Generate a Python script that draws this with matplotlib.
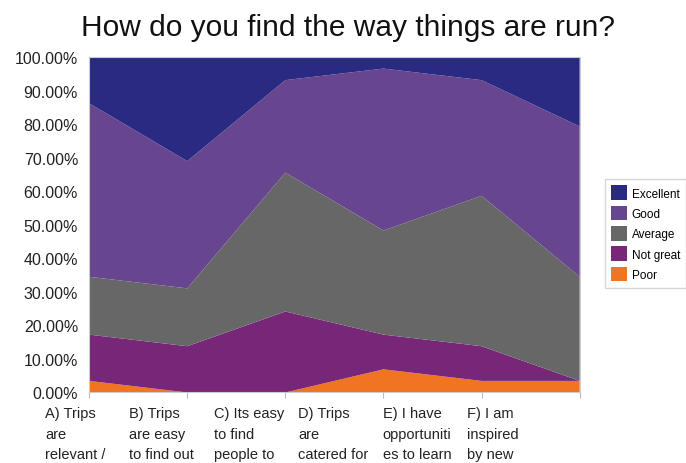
import matplotlib
matplotlib.use('Agg')
import matplotlib.pyplot as plt
from matplotlib.ticker import FuncFormatter
from matplotlib.patches import Patch

plt.rcParams['font.family'] = ['Liberation Sans', 'DejaVu Sans']

# --- data (percent of respondents) ---
categories = ['A) Trips\nare\nrelevant /', 'B) Trips\nare easy\nto find out',
              'C) Its easy\nto find\npeople to', 'D) Trips\nare\ncatered for',
              'E) I have\nopportuniti\nes to learn', 'F) I am\ninspired\nby new']
series_names = ['Poor', 'Not great', 'Average', 'Good', 'Excellent']
poor = [3.45, 0.0, 0.0, 6.90, 3.45, 3.45]
not_great = [13.79, 13.79, 24.14, 10.34, 10.34, 0.0]
average = [17.24, 17.24, 41.38, 31.03, 44.83, 31.03]
good = [51.72, 37.93, 27.59, 48.28, 34.48, 44.83]
excellent = [13.79, 31.03, 6.90, 3.45, 6.90, 20.69]
colors = ['#f07421', '#772678', '#666766', '#67468f', '#2b2a82']

fig = plt.figure(figsize=(6.86, 4.64), dpi=100)
ax = fig.add_axes([0.130, 0.152, 0.715, 0.723])

x = list(range(len(categories)))
ax.stackplot(x, poor, not_great, average, good, excellent, colors=colors, linewidth=0)

ax.set_xlim(0, len(categories) - 1)
ax.set_ylim(0, 100)
ax.set_yticks(range(0, 101, 10))
ax.yaxis.set_major_formatter(FuncFormatter(lambda v, p: f'{v:.2f}%'))
ax.tick_params(axis='y', length=0, labelsize=11.5, colors='#222222', pad=8)
ax.set_xticks(x)
ax.set_xticklabels([])
ax.tick_params(axis='x', length=4, color='#bbbbbb')
for s in ax.spines.values():
    s.set_color('#cccccc')
    s.set_linewidth(0.8)

# category labels sit in their own evenly spaced slots under the plot, clipped to the slot
for i, lab in enumerate(categories):
    left = (45 + 84.4 * i) / 686
    t = fig.text(left, 1 - 407.5 / 464, lab, ha='left', va='top',
                 fontsize=10.5, color='#222222', linespacing=1.55)
    clip = plt.Rectangle((left, 0), 78 / 686, 0.2, transform=fig.transFigure)
    t.set_clip_path(clip)

fig.text(0.508, 1 - 28 / 464, 'How do you find the way things are run?', ha='center', va='center',
         fontsize=21.5, color='#111111')

handles = [Patch(facecolor=c, edgecolor='none') for c in colors[::-1]]
leg = fig.legend(handles, series_names[::-1], loc='upper left',
                 bbox_to_anchor=(605 / 686, 1 - 180 / 464), fontsize=8.5,
                 frameon=True, fancybox=False, edgecolor='#cccccc',
                 handlelength=1.3, handleheight=1.5, handletextpad=0.4,
                 labelspacing=0.5, borderpad=0.55, borderaxespad=0)

fig.savefig('out.png', dpi=100)
